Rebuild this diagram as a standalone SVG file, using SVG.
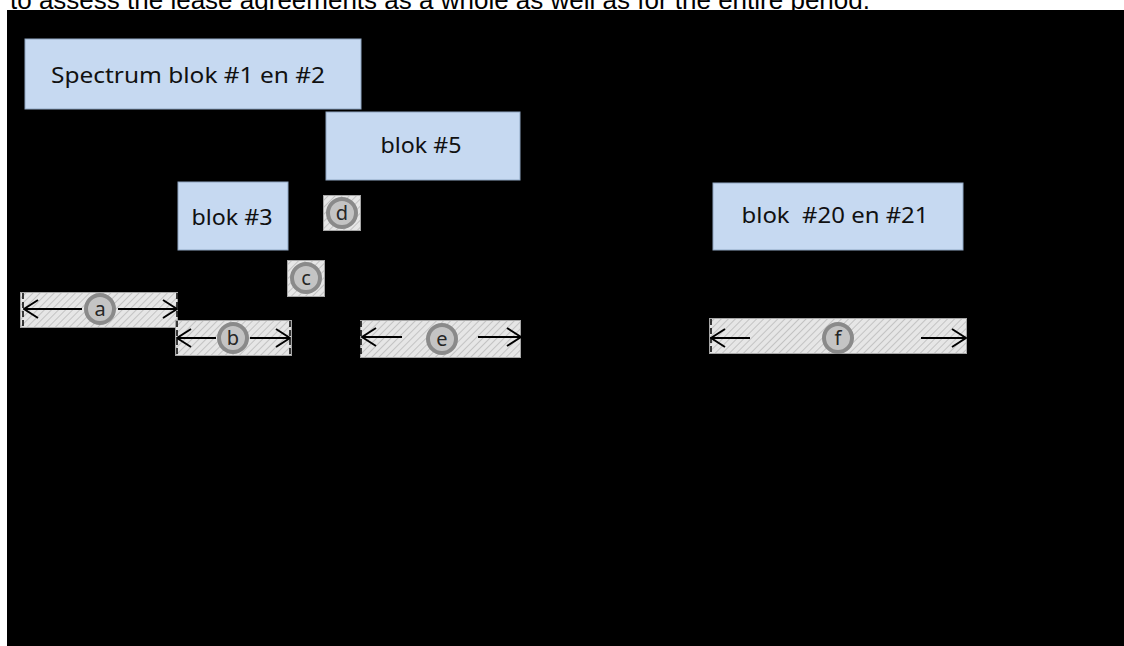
<svg xmlns="http://www.w3.org/2000/svg" width="1124" height="646" viewBox="0 0 1124 646">
  <defs>
    <style>
      .caption { font-family: "Liberation Sans", Arial, sans-serif; font-size: 26px; fill: #000; }
      .block rect { fill: #C6D9F1; stroke: #8FA6C2; stroke-width: 1; }
      .block text { font-family: "Noto Sans", "Open Sans", sans-serif; font-size: 21px; fill: #111; text-anchor: middle; }
      .bar { fill: url(#hatch); stroke: #A6A6A6; stroke-width: 1; }
      .tick { stroke: #000; stroke-width: 1.5; stroke-dasharray: 6 3; }
      .mark circle { fill: #C4C4C4; stroke: #8A8A8A; stroke-width: 4; }
      .mark text { font-family: "Noto Sans", "Open Sans", sans-serif; font-size: 20px; fill: #262626; text-anchor: middle; }
      .dim { stroke: #000; stroke-width: 2; fill: none; marker-end: url(#chevron); }
    </style>
    <pattern id="hatch" width="5" height="5" patternUnits="userSpaceOnUse" patternTransform="rotate(45)">
      <rect width="5" height="5" fill="#E6E6E6"/>
      <line x1="0" y1="0" x2="0" y2="5" stroke="#B0B0B0" stroke-width="1.3"/>
    </pattern>
    <marker id="chevron" viewBox="0 0 16 20" refX="15" refY="10" markerWidth="16" markerHeight="20" markerUnits="userSpaceOnUse" orient="auto">
      <path d="M1,1 L15,10 L1,19" fill="none" stroke="#000" stroke-width="2"/>
    </marker>
  </defs>

  <!-- page caption, partly covered by the figure -->
  <text class="caption" x="10" y="9">to assess the lease agreements as a whole as well as for the entire period.</text>

  <!-- figure background -->
  <rect x="7" y="10" width="1117" height="636" fill="#000"/>

  <!-- spectrum blocks -->
  <g id="block-1-2" class="block">
    <rect x="25" y="39" width="336" height="70"/>
    <text x="188" y="83" textLength="274" lengthAdjust="spacingAndGlyphs">Spectrum blok #1 en #2</text>
  </g>
  <g id="block-5" class="block">
    <rect x="326" y="112" width="194" height="68"/>
    <text x="421" y="153" textLength="81" lengthAdjust="spacingAndGlyphs">blok #5</text>
  </g>
  <g id="block-3" class="block">
    <rect x="178" y="182" width="110" height="68"/>
    <text x="232" y="225" textLength="81" lengthAdjust="spacingAndGlyphs">blok #3</text>
  </g>
  <g id="block-20-21" class="block">
    <rect x="713" y="183" width="250" height="67"/>
    <text x="835" y="223" textLength="187" lengthAdjust="spacingAndGlyphs" xml:space="preserve">blok  #20 en #21</text>
  </g>

  <!-- period bars -->
  <g id="period-a">
    <rect class="bar" x="20.5" y="292.5" width="157" height="35"/>
    <line class="tick" x1="23" y1="293" x2="23" y2="327"/>
    <line class="tick" x1="177" y1="293" x2="177" y2="327"/>
    <g class="mark"><circle cx="100" cy="309" r="14"/><text x="100" y="316">a</text></g>
  </g>
  <g id="period-b">
    <rect class="bar" x="175.5" y="320.5" width="116" height="35"/>
    <line class="tick" x1="177" y1="321" x2="177" y2="355"/>
    <line class="tick" x1="290" y1="321" x2="290" y2="355"/>
    <g class="mark"><circle cx="233" cy="338" r="14"/><text x="233" y="345">b</text></g>
  </g>
  <g id="period-c">
    <rect class="bar" x="287.5" y="260.5" width="37" height="36"/>
    <g class="mark"><circle cx="306" cy="278" r="14"/><text x="306" y="285">c</text></g>
  </g>
  <g id="period-d">
    <rect class="bar" x="323.5" y="195.5" width="37" height="35"/>
    <g class="mark"><circle cx="342" cy="213" r="14"/><text x="342" y="220">d</text></g>
  </g>
  <g id="period-e">
    <rect class="bar" x="360.5" y="320.5" width="160" height="37"/>
    <line class="tick" x1="361" y1="321" x2="361" y2="357"/>
    <g class="mark"><circle cx="442" cy="339" r="14"/><text x="442" y="346">e</text></g>
  </g>
  <g id="period-f">
    <rect class="bar" x="709.5" y="318.5" width="257" height="35"/>
    <line class="tick" x1="711" y1="319" x2="711" y2="353"/>
    <g class="mark"><circle cx="838" cy="338" r="14"/><text x="838" y="345">f</text></g>
  </g>

  <!-- dimension arrows -->
  <g id="dimension-arrows">
    <line class="dim" x1="82" y1="309" x2="24" y2="309"/>
    <line class="dim" x1="118" y1="309" x2="177" y2="309"/>
    <line class="dim" x1="216" y1="338" x2="177" y2="338"/>
    <line class="dim" x1="250" y1="338" x2="290" y2="338"/>
    <line class="dim" x1="402" y1="337" x2="362" y2="337"/>
    <line class="dim" x1="478" y1="337" x2="521" y2="337"/>
    <line class="dim" x1="750" y1="338" x2="711" y2="338"/>
    <line class="dim" x1="921" y1="338" x2="966" y2="338"/>
  </g>
</svg>
